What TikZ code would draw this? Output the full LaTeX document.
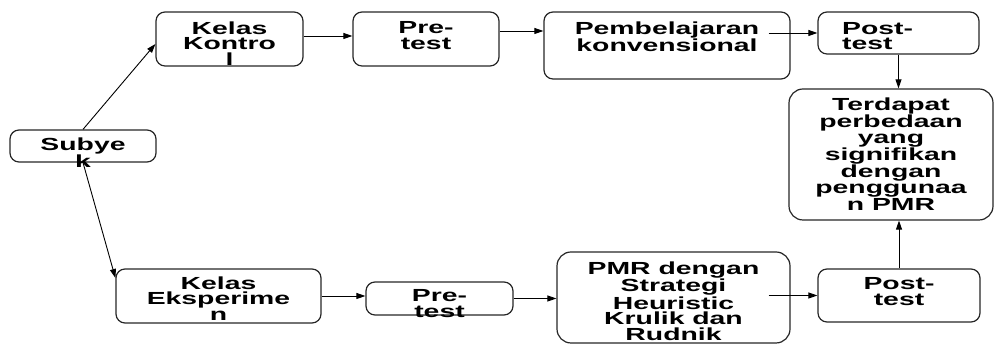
\documentclass[tikz,border=0pt]{standalone}
\usepackage{fontspec}
\setmainfont{Liberation Sans}[FakeStretch=1.62]
\usepackage{tikz}
\usetikzlibrary{arrows.meta, positioning}

\begin{document}
\begin{tikzpicture}[
    x=1pt, y=1pt,
    box/.style={rectangle, draw=black!85, rounded corners=9pt, line width=1.2pt,
                inner sep=0pt},
    txt/.style={align=center, inner sep=0pt, anchor=north,
                font=\bfseries\fontsize{17.5}{15.6}\selectfont},
    arr/.style={-{Triangle[length=9pt,width=6pt]}, line width=0.9pt},
]
\useasboundingbox (0,0) rectangle (994,344);

% Subject
\node[box, minimum width=146pt, minimum height=32pt] (subyek) at (83,198) {};
\node[txt] (subyek-t) at ([yshift=-8pt]subyek.north) {Subye\\k};

% Control row
\node[box, minimum width=147pt, minimum height=54pt] (kontrol) at (229.5,305) {};
\node[txt] (kontrol-t) at ([yshift=-10pt]kontrol.north) {Kelas\\Kontro\\l};
\node[box, minimum width=146pt, minimum height=54pt] (pre1) at (426,305) {};
\node[txt] (pre1-t) at ([yshift=-10pt]pre1.north) {Pre-\\test};
\node[box, minimum width=246pt, minimum height=67pt] (konv) at (667,298.5) {};
\node[txt] (konv-t) at ([yshift=-10pt]konv.north) {Pembelajaran\\konvensional};
\node[box, minimum width=161pt, minimum height=42pt] (post1) at (898.5,311) {};
\node[txt, anchor=north west, align=left] (post1-t) at (842,322) {Post-\\test};

% Result
\node[box, rounded corners=14pt, minimum width=204pt, minimum height=131pt] (hasil) at (891,189.5) {};
\node[txt] (hasil-t) at ([yshift=-9pt]hasil.north)
      {Terdapat\\perbedaan\\yang\\signifikan\\dengan\\penggunaa\\n PMR};

% Experiment row
\node[box, minimum width=205pt, minimum height=54pt] (eksp) at (218.5,48) {};
\node[txt] (eksp-t) at ([yshift=-8pt]eksp.north) {Kelas\\Eksperime\\n};
\node[box, minimum width=147pt, minimum height=33pt] (pre2) at (439.5,45.5) {};
\node[txt] (pre2-t) at ([yshift=-8pt]pre2.north) {Pre-\\test};
\node[box, rounded corners=14pt, minimum width=233pt, minimum height=91pt] (pmr) at (673.5,46.5) {};
\node[txt] (pmr-t) at ([yshift=-10pt]pmr.north)
      {PMR dengan\\Strategi\\Heuristic\\Krulik dan\\Rudnik};
\node[box, minimum width=162pt, minimum height=53pt] (post2) at (899,48.5) {};
\node[txt] (post2-t) at ([yshift=-9pt]post2.north) {Post-\\test};

% Arrows
\draw[arr] (subyek.north) -- ([yshift=-5pt]kontrol.west);
\draw[arr] (subyek.south) -- ([yshift=18pt]eksp.west);
\draw[arr] ([yshift=3pt]kontrol.east) -- ([yshift=3pt]pre1.west);
\draw[arr] ([yshift=8pt]pre1.east) -- ([yshift=8pt]pre1.east -| konv.west);
\draw[arr] ([xshift=-22pt]konv.east |- post1.west) -- (post1.west);
\draw[arr] (post1.south) -- (post1.south |- hasil.north);
\draw[arr] (eksp.east) -- (eksp.east -| pre2.west);
\draw[arr] (pre2.east) -- (pre2.east -| pmr.west);
\draw[arr] ([xshift=-22pt]pmr.east |- post2.west) -- (post2.west);
\draw[arr] (post2.north) -- (post2.north |- hasil.south);

\end{tikzpicture}
\end{document}
